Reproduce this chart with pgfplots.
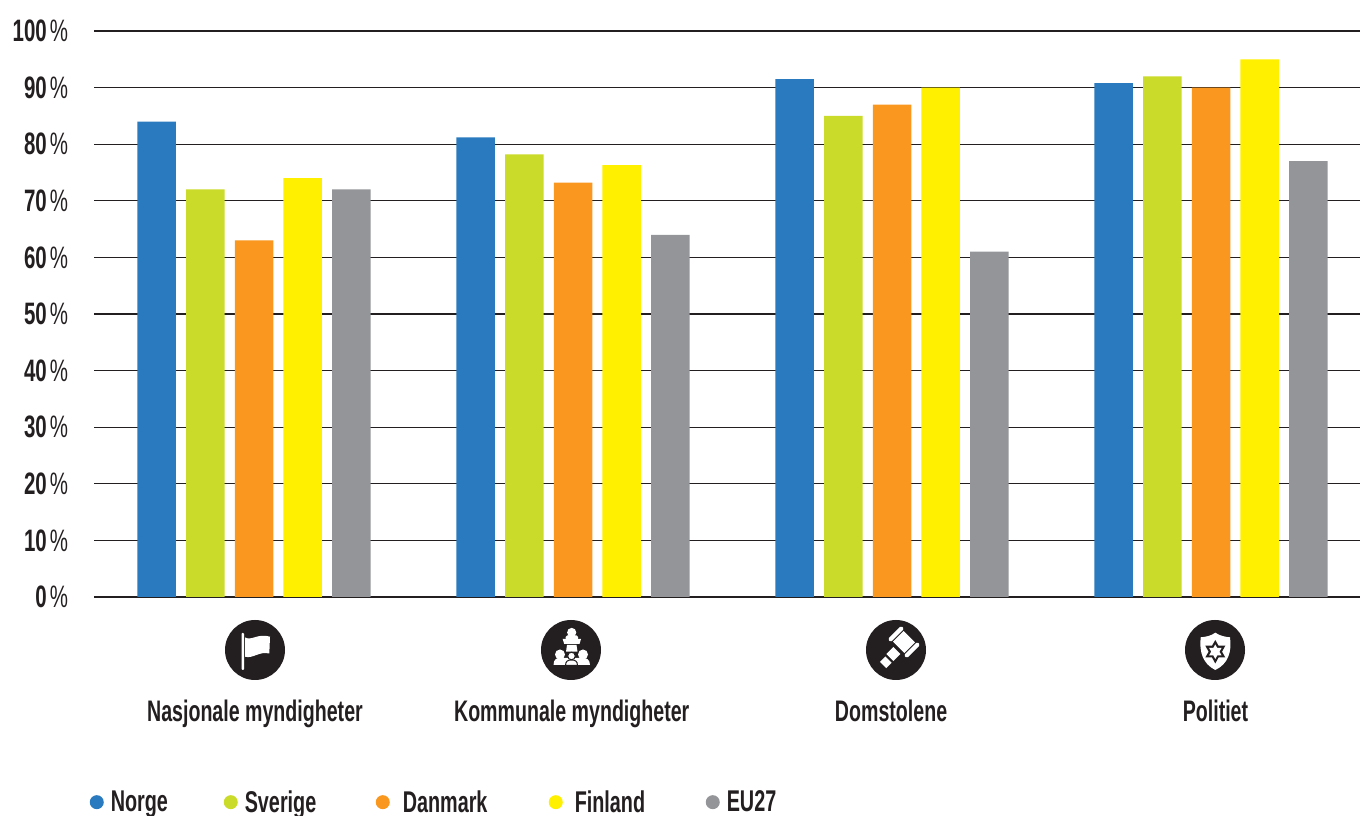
\documentclass[border=0pt]{standalone}
\usepackage{fontspec}
\setmainfont[FakeStretch=0.66]{Liberation Sans}
\usepackage{pgfplots}
\pgfplotsset{compat=1.18}
\definecolor{ink}{HTML}{231F20}
\definecolor{cnorge}{HTML}{2A7ABF}
\definecolor{csverige}{HTML}{CBDB2A}
\definecolor{cdanmark}{HTML}{F9971F}
\definecolor{cfinland}{HTML}{FFF000}
\definecolor{ceu}{HTML}{939598}
\begin{document}
\begin{tikzpicture}[x=1pt,y=1pt]
\clip (0,0) rectangle (1360,816);
\begin{axis}[
    at={(94pt,219pt)},
    anchor=south west,
    scale only axis,
    width=1266pt,
    height=566pt,
    ybar=10.2pt,
    bar width=38.5pt,
    xmin=-0.5016, xmax=3.467,
    ymin=0, ymax=100,
    ytick={0,10,...,100},
    xtick={0.003,0.996,1.997,3.014},
    xticklabels={Nasjonale myndigheter,Kommunale myndigheter,Domstolene,Politiet},
    ymajorgrids,
    grid style={ink,line width=1.1pt},
    axis line style={draw=none},
    tick style={draw=none},
    yticklabel={\pgfmathparse{int(\tick)}\pgfmathresult\hspace{3pt}{\mdseries\%}},
    yticklabel style={font=\fontsize{31}{31}\selectfont\bfseries,text=ink,xshift=-22.5pt},
    xticklabel style={font=\fontsize{29.7}{30}\selectfont\bfseries,text=ink,anchor=base,yshift=-120pt},
    legend style={
        at={(-0.0035,-0.3869)},
        anchor=south west,
        draw=none,
        fill=none,
        font=\fontsize{30}{30}\selectfont\bfseries,
        text=ink,
        legend columns=-1,
        inner sep=0pt,
    },
    legend cell align={left},
    legend image code/.code={\fill[#1] (0pt,0pt) circle (7pt);},
]
\addplot[fill=cnorge,draw=none] coordinates {(0,84) (1,81.2) (2,91.5) (3,90.8)};
\addplot[fill=csverige,draw=none] coordinates {(0,72) (1,78.2) (2,85) (3,92)};
\addplot[fill=cdanmark,draw=none] coordinates {(0,63) (1,73.2) (2,87) (3,90)};
\addplot[fill=cfinland,draw=none] coordinates {(0,74) (1,76.3) (2,90) (3,95)};
\addplot[fill=ceu,draw=none] coordinates {(0,72) (1,64) (2,61) (3,77)};
\legend{\makebox[116pt][l]{\hspace{5pt}Norge},\makebox[134pt][l]{\hspace{5pt}Sverige},\makebox[155pt][l]{\hspace{11pt}Danmark},\makebox[139pt][l]{\hspace{10pt}Finland},\hspace{5pt}EU27}
\end{axis}
% icons under the categories, in picture pixels with y running down
\begin{scope}[shift={(0pt,816pt)},y=-1pt]
\fill[ink] (255,650) circle (30);
\fill[white,rounded corners=1pt] (241.5,633) rectangle (244.2,670);
\fill[white] (245,637.5) .. controls (252,641) and (258,633) .. (270,636.7)
    -- (269.3,653.5) .. controls (259,651) and (253,659) .. (245,656.7) -- cycle;

\fill[ink] (571,650) circle (30);
\fill[white] (571.7,632.5) circle (4.6);
\fill[white,rounded corners=1.5pt] (565.5,635.5) rectangle (578,640);
\fill[white] (562.7,639) -- (581,639) -- (579.5,644) -- (564.2,644) -- cycle;
\fill[white] (567,645) -- (576.5,645) -- (577.5,651.7) -- (566,651.7) -- cycle;
\fill[white] (560,654.5) circle (5);
\fill[white] (583,654.5) circle (5);
\fill[white] (553.5,665) .. controls (553.5,659) and (557,658) .. (560,658)
    -- (583,658) .. controls (586,658) and (590,659) .. (590,665) -- cycle;
\fill[white,draw=ink,line width=1pt] (571.5,656) circle (3.8);
\fill[white,draw=ink,line width=1pt] (565.5,665.5) .. controls (565.5,661) and (568,660) .. (571.5,660)
    .. controls (575,660) and (577.5,661) .. (577.5,665.5) -- cycle;

\fill[ink] (896,650) circle (30);
\begin{scope}[shift={(904pt,-642pt)},rotate=45]
\fill[white] (-7.5,-8) -- (7.5,-8) -- (7.5,8) -- (-7.5,8) -- cycle;
\fill[white,rounded corners=1.5pt] (-9.5,-13.5) rectangle (9.5,-9.3);
\fill[white,rounded corners=1.5pt] (-9.5,9.3) rectangle (9.5,13.5);
\fill[white] (-21,-4) rectangle (-11,6);
\fill[white] (-31,-3) rectangle (-23.5,6);
\end{scope}

\fill[ink] (1215,650) circle (30);
\fill[white] (1215.3,632.7) .. controls (1220,636) and (1226,637) .. (1230,637.3)
    .. controls (1232,652) and (1228,664) .. (1215.3,670)
    .. controls (1203,664) and (1199,652) .. (1200.7,637.3)
    .. controls (1205,637) and (1211,636) .. (1215.3,632.7) -- cycle;
\fill[ink] (1215.3,640) -- (1218.5,645.7) -- (1225.3,645.7) -- (1222,651.7)
    -- (1225.3,657.5) -- (1218.5,657.5) -- (1215.3,663.5) -- (1212,657.5)
    -- (1205.3,657.5) -- (1208.6,651.7) -- (1205.3,645.7) -- (1212,645.7) -- cycle;
\fill[white] (1215.3,644.5) -- (1217.3,648) -- (1221.5,648) -- (1219.4,651.7)
    -- (1221.5,655.3) -- (1217.3,655.3) -- (1215.3,659) -- (1213.3,655.3)
    -- (1209.1,655.3) -- (1211.2,651.7) -- (1209.1,648) -- (1213.3,648) -- cycle;
\end{scope}
\end{tikzpicture}
\end{document}
